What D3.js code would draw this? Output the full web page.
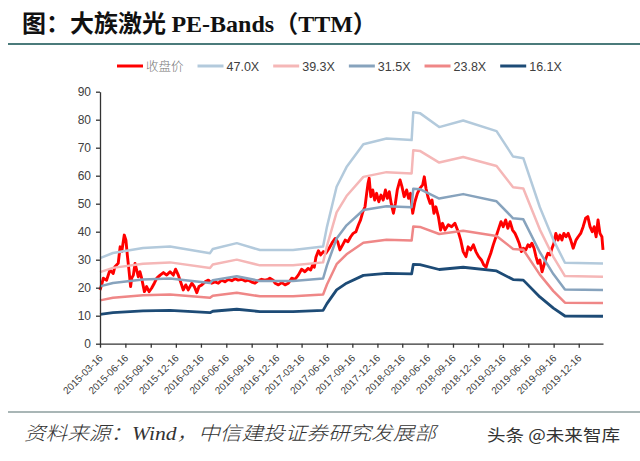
<!DOCTYPE html>
<html>
<head>
<meta charset="utf-8">
<script src="https://cdn.jsdelivr.net/npm/d3@7"></script>
<style>
  html, body { margin: 0; padding: 0; background: #fff; }
  svg { display: block; }
  .tick text { font-family: "Liberation Sans", Arial, sans-serif; fill: #404040; }
</style>
</head>
<body>
<svg id="chart" width="640" height="461"></svg>
<script>
// closing price (收盘价)
var priceDates = [
  "2015-03-16","2015-03-22","2015-03-28","2015-04-09","2015-04-21","2015-05-03","2015-05-09","2015-05-21","2015-05-28","2015-06-03",
  "2015-06-12","2015-06-18","2015-06-23","2015-06-29","2015-07-05","2015-07-09","2015-07-15","2015-07-21","2015-07-27","2015-08-02",
  "2015-08-08","2015-08-14","2015-08-24","2015-09-01","2015-09-10","2015-09-19","2015-09-29","2015-10-08","2015-10-20","2015-11-01",
  "2015-11-13","2015-11-25","2015-12-07","2015-12-15","2015-12-25","2016-01-04","2016-01-12","2016-01-21","2016-01-30","2016-02-12",
  "2016-02-21","2016-03-01","2016-03-09","2016-03-19","2016-03-31","2016-04-12","2016-04-24","2016-05-06","2016-05-18","2016-05-30",
  "2016-06-11","2016-06-23","2016-07-06","2016-07-18","2016-07-29","2016-08-11","2016-08-23","2016-09-04","2016-09-16","2016-09-28",
  "2016-10-10","2016-10-22","2016-11-03","2016-11-15","2016-11-21","2016-12-03","2016-12-10","2016-12-22","2017-01-03","2017-01-15",
  "2017-01-27","2017-02-08","2017-02-20","2017-03-04","2017-03-16","2017-03-28","2017-04-09","2017-04-18","2017-04-25","2017-05-01",
  "2017-05-07","2017-05-16","2017-05-24","2017-06-03","2017-06-12","2017-06-24","2017-07-07","2017-07-16","2017-07-25","2017-08-02",
  "2017-08-12","2017-08-21","2017-08-31","2017-09-10","2017-09-19","2017-09-29","2017-10-08","2017-10-16","2017-10-24","2017-11-01",
  "2017-11-07","2017-11-12","2017-11-16","2017-11-22","2017-11-29","2017-12-06","2017-12-13","2017-12-21","2017-12-29","2018-01-06",
  "2018-01-14","2018-01-21","2018-01-28","2018-02-04","2018-02-12","2018-02-19","2018-02-26","2018-03-08","2018-03-15","2018-03-23",
  "2018-04-01","2018-04-08","2018-04-15","2018-04-23","2018-05-01","2018-05-10","2018-05-19","2018-05-29","2018-06-04","2018-06-10",
  "2018-06-17","2018-06-25","2018-07-02","2018-07-09","2018-07-16","2018-07-25","2018-08-02","2018-08-09","2018-08-18","2018-08-30",
  "2018-09-11","2018-09-23","2018-10-05","2018-10-14","2018-10-23","2018-11-02","2018-11-10","2018-11-19","2018-11-29","2018-12-08",
  "2018-12-18","2018-12-28","2019-01-06","2019-01-14","2019-01-22","2019-01-31","2019-02-09","2019-02-19","2019-03-01","2019-03-09",
  "2019-03-17","2019-03-26","2019-04-03","2019-04-11","2019-04-20","2019-04-29","2019-05-07","2019-05-14","2019-05-22","2019-05-29",
  "2019-06-07","2019-06-15","2019-06-22","2019-06-29","2019-07-07","2019-07-14","2019-07-21","2019-07-28","2019-08-05","2019-08-12",
  "2019-08-19","2019-08-26","2019-09-03","2019-09-10","2019-09-17","2019-09-24","2019-10-02","2019-10-09","2019-10-16","2019-10-23",
  "2019-10-31","2019-11-08","2019-11-17","2019-11-26","2019-12-06","2019-12-14","2019-12-23","2020-01-01","2020-01-10","2020-01-18",
  "2020-01-26","2020-02-03","2020-02-10","2020-02-17","2020-02-24","2020-03-02","2020-03-09","2020-03-13"
];
var priceValues = [
  19.2,21.0,23.4,22.7,26.3,25.1,27.5,28.7,34.6,32.9,
  38.8,37.0,31.7,26.3,20.4,23.4,24.5,28.7,26.3,23.9,
  25.7,23.4,18.6,20.4,18.6,19.8,21.6,23.4,24.5,25.4,
  24.5,25.7,24.5,26.6,24.5,21.6,19.2,21.0,19.2,21.6,
  20.4,18.2,20.4,21.0,22.1,22.7,21.6,22.1,21.6,22.7,
  22.1,23.0,22.5,23.2,22.7,23.0,22.4,22.7,22.0,21.6,
  22.5,23.0,22.7,23.0,23.4,22.7,21.6,21.0,21.8,21.0,
  21.6,23.4,23.0,24.5,26.6,25.7,26.9,26.3,28.1,27.3,
  30.9,33.2,31.7,32.9,32.3,34.1,36.4,37.6,36.4,33.5,
  35.3,37.0,36.4,38.2,39.4,40.0,42.4,44.2,47.1,48.9,
  53.7,57.3,59.1,52.5,54.9,51.3,53.7,50.7,53.1,51.3,
  54.9,51.9,54.3,50.1,46.6,50.1,54.9,58.5,56.1,52.5,
  54.9,51.9,53.7,46.6,50.7,53.7,55.5,56.7,59.6,55.5,
  52.5,50.1,51.3,46.6,48.9,45.4,40.6,43.0,40.6,42.5,
  41.8,43.0,40.0,37.0,32.9,31.1,34.6,33.5,35.3,32.9,
  31.1,29.9,28.1,27.3,29.9,32.3,35.3,38.2,41.2,43.6,
  41.8,44.2,41.2,43.6,40.6,39.4,37.6,35.9,32.9,34.1,
  33.5,35.3,34.6,35.9,34.1,31.1,28.7,29.9,25.7,28.1,
  30.5,32.3,31.7,34.1,35.9,39.4,37.0,38.8,37.0,39.4,
  38.2,39.4,37.0,34.1,37.0,38.2,39.4,41.8,44.8,45.4,
  41.8,40.0,41.8,38.2,44.2,39.4,38.2,33.5
];

// EPS (TTM) behind the bands
var epsDates = [
  "2015-03-16","2015-05-02","2015-08-19","2015-11-25","2016-04-18","2016-04-28","2016-07-24","2016-10-16","2017-02-13","2017-06-02",
  "2017-06-16","2017-07-21","2017-08-26","2017-10-26","2018-01-18","2018-04-19","2018-04-25","2018-05-19","2018-07-28","2018-10-23",
  "2019-02-21","2019-04-22","2019-05-29","2019-07-28","2019-09-15","2019-10-27","2020-03-13"
];
var epsValues = [
  0.650,0.689,0.727,0.739,0.688,0.720,0.764,0.712,0.712,0.739,
  0.888,1.193,1.342,1.516,1.559,1.547,1.758,1.752,1.646,1.696,
  1.615,1.422,1.410,1.037,0.789,0.615,0.609
];

var multiples = [47.0, 39.3, 31.5, 23.8, 16.1];
var bandNames = ["47.0X", "39.3X", "31.5X", "23.8X", "16.1X"];
var bandColors = ["#b3cadc", "#f5b7b7", "#87a3bd", "#ef8787", "#1d4b76"];
var priceName = "收盘价";
var priceColor = "#ff0000";

var yTicks = [0, 10, 20, 30, 40, 50, 60, 70, 80, 90];
var xTickLabels = [
  "2015-03-16","2015-06-16","2015-09-16","2015-12-16","2016-03-16","2016-06-16","2016-09-16","2016-12-16",
  "2017-03-16","2017-06-16","2017-09-16","2017-12-16","2018-03-16","2018-06-16","2018-09-16","2018-12-16",
  "2019-03-16","2019-06-16","2019-09-16","2019-12-16"
];

(function() {
  var parse = d3.timeParse("%Y-%m-%d");
  var svg = d3.select("#chart");
  var cjk = '"Noto Sans CJK SC", sans-serif';

  // title
  var title = svg.append("text")
    .attr("x", 22).attr("y", 32)
    .attr("font-size", 24).attr("font-weight", "bold")
    .attr("fill", "#111")
    .attr("font-family", cjk);
  title.append("tspan").text("图：大族激光 ");
  title.append("tspan").attr("font-family", '"Liberation Serif", serif').text("PE-Bands");
  title.append("tspan").text("（");
  title.append("tspan").attr("font-family", '"Liberation Serif", serif').text("TTM");
  title.append("tspan").text("）");

  svg.append("line")
    .attr("x1", 8).attr("x2", 640).attr("y1", 44).attr("y2", 44)
    .attr("stroke", "#4b7b7b").attr("stroke-width", 2);

  var x = d3.scaleTime()
    .domain([parse("2015-03-16"), parse("2020-03-13")])
    .range([100, 603]);
  var y = d3.scaleLinear().domain([0, 90]).range([343.7, 91.7]);

  var line = d3.line()
    .x(function(d) { return x(d[0]); })
    .y(function(d) { return y(d[1]); });

  var priceData = priceDates.map(function(d, i) { return [parse(d), priceValues[i]]; });
  var plot = svg.append("g");

  plot.append("path")
    .datum(priceData)
    .attr("d", line)
    .attr("fill", "none")
    .attr("stroke", priceColor)
    .attr("stroke-width", 2.9)
    .attr("stroke-linejoin", "round");

  multiples.forEach(function(m, k) {
    var band = epsDates.map(function(d, i) { return [parse(d), epsValues[i] * m]; });
    plot.append("path")
      .datum(band)
      .attr("d", line)
      .attr("fill", "none")
      .attr("stroke", bandColors[k])
      .attr("stroke-width", k == 4 ? 2.8 : 2.5)
      .attr("stroke-linejoin", "round");
  });

  // axes
  var yAxis = svg.append("g")
    .attr("transform", "translate(100,0)")
    .call(d3.axisLeft(y).tickValues(yTicks).tickSize(4).tickSizeOuter(0).tickPadding(5));
  yAxis.selectAll("text").attr("font-size", 12);

  var xAxis = svg.append("g")
    .attr("transform", "translate(0," + y(0) + ")")
    .call(d3.axisBottom(x)
      .tickValues(xTickLabels.map(parse))
      .tickFormat(d3.timeFormat("%Y-%m-%d"))
      .tickSize(4).tickSizeOuter(0));
  xAxis.selectAll("text")
    .attr("font-size", 10)
    .attr("y", 0).attr("dy", 0)
    .attr("text-anchor", "end")
    .attr("transform", "translate(3,15) rotate(-45)");

  svg.selectAll(".domain, .tick line").attr("stroke", "#333").attr("stroke-width", 1.3);

  // legend
  var items = [{ name: priceName, color: priceColor, cjk: true }];
  bandNames.forEach(function(n, k) { items.push({ name: n, color: bandColors[k] }); });
  var lx = 117;
  items.forEach(function(it) {
    svg.append("line")
      .attr("x1", lx).attr("x2", lx + 26).attr("y1", 66).attr("y2", 66)
      .attr("stroke", it.color).attr("stroke-width", 3);
    var t = svg.append("text")
      .attr("x", lx + 29).attr("y", 70.5)
      .attr("font-size", 12.5)
      .attr("fill", it.cjk ? "#777" : "#404040")
      .attr("font-weight", it.cjk ? 300 : null)
      .attr("font-family", it.cjk ? cjk : '"Liberation Sans", Arial, sans-serif')
      .text(it.name);
    lx += 29 + t.node().getComputedTextLength() + 14;
  });

  // footer
  svg.append("line")
    .attr("x1", 8).attr("x2", 640).attr("y1", 412).attr("y2", 412)
    .attr("stroke", "#a9b6b6").attr("stroke-width", 2);

  var src = svg.append("text")
    .attr("x", 24).attr("y", 440)
    .attr("font-size", 19).attr("font-style", "italic").attr("font-weight", 300)
    .attr("fill", "#333")
    .attr("font-family", cjk)
    .attr("textLength", 412).attr("lengthAdjust", "spacingAndGlyphs");
  src.append("tspan").text("资料来源：");
  src.append("tspan").attr("font-family", '"Liberation Serif", serif').text("Wind");
  src.append("tspan").text("，中信建投证券研究发展部");

  svg.append("text")
    .attr("x", 487).attr("y", 441)
    .attr("font-size", 16)
    .attr("fill", "#333")
    .attr("font-family", cjk)
    .attr("textLength", 133).attr("lengthAdjust", "spacingAndGlyphs")
    .text("头条 @未来智库");
})();
</script>
</body>
</html>
